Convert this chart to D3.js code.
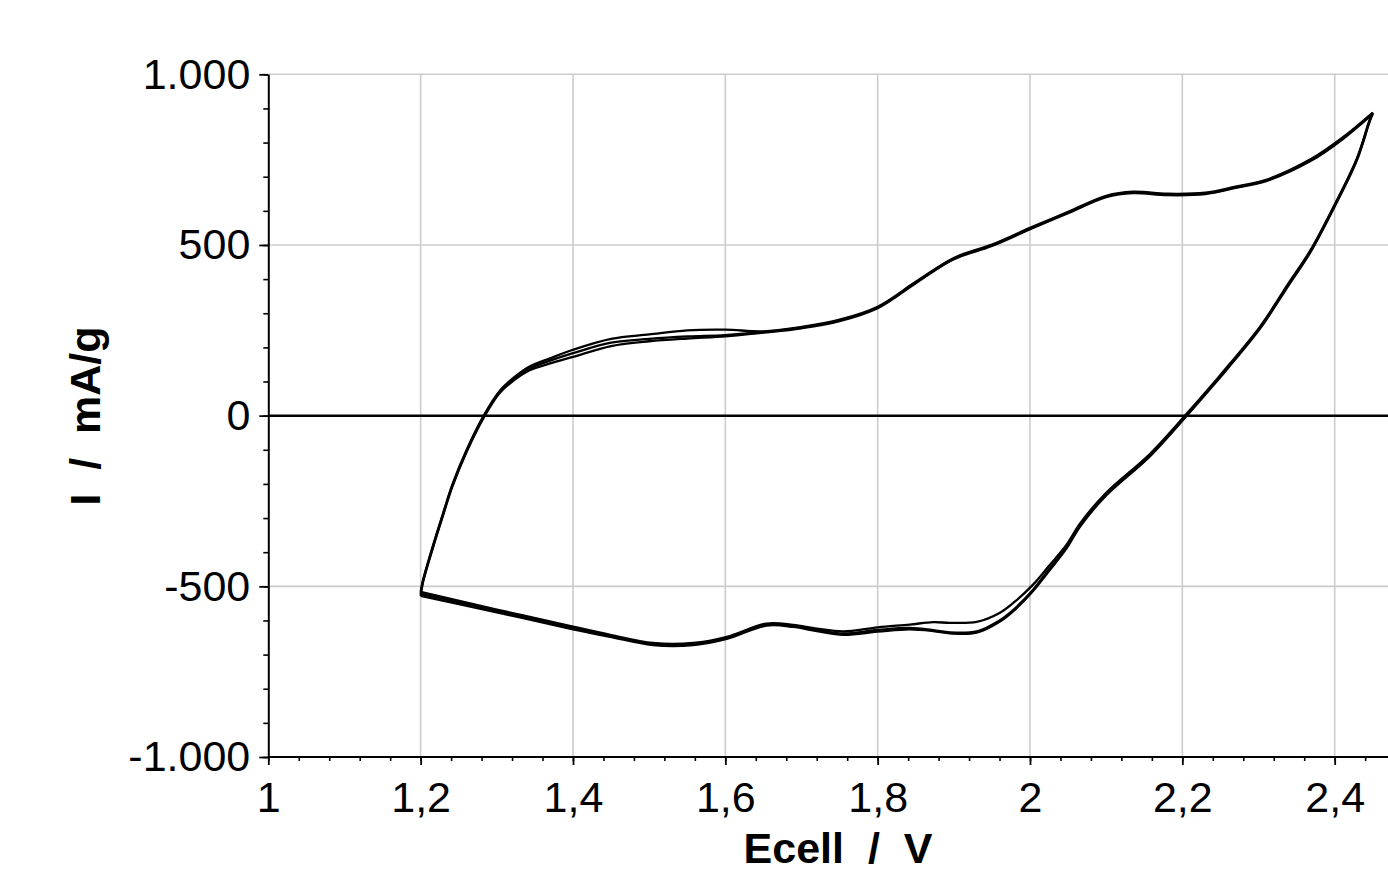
<!DOCTYPE html>
<html>
<head>
<meta charset="utf-8">
<script src="https://cdn.jsdelivr.net/npm/d3@7"></script>
<style>
	body { margin: 0; background: #fff; }
	svg { display: block; font-family: "Liberation Sans", Arial, sans-serif; }
	.tick text { font-size: 43px; fill: #000; }
	.axis-title { font-size: 43px; font-weight: bold; white-space: pre; }
</style>
</head>
<body>
<svg id="chart" width="1388" height="873"></svg>
<script>
// Anodic sweep (1.2 V -> 2.45 V), shared potentials
const anodicE = [1.2, 1.203, 1.216, 1.229, 1.242, 1.261, 1.283, 1.304, 1.321, 1.343, 1.37, 1.4, 1.45, 1.5, 1.55, 1.6, 1.65, 1.7, 1.75, 1.8, 1.85, 1.9, 1.95, 2.0, 2.05, 2.1, 2.135, 2.18, 2.23, 2.27, 2.31, 2.37, 2.41, 2.45];
const anodicA = [-522, -486, -385, -292, -203, -100, -2, 70, 105, 138, 161, 183, 214, 225, 232, 236, 245, 258, 279, 317, 390, 460, 499, 548, 595, 642, 654, 648, 651, 669, 689, 751, 812, 886];
const anodicB = [-528, -489, -388, -295, -206, -103, -5, 67, 101, 133, 153, 172, 204, 218, 226, 232, 243, 256, 277, 315, 388, 458, 497, 546, 593, 640, 652, 646, 649, 667, 687, 748, 809, 884];
const anodicC = [-516, -483, -382, -289, -200, -97, 1, 73, 109, 144, 168, 193, 225, 238, 250, 252, 247, 260, 281, 319, 392, 462, 501, 550, 597, 644, 656, 650, 653, 671, 691, 753, 814, 888];

// Cathodic sweep (2.45 V -> 1.2 V)
const cathodicE = [2.45, 2.446, 2.429, 2.398, 2.368, 2.341, 2.302, 2.262, 2.245, 2.207, 2.157, 2.1, 2.066, 2.048, 2.025, 2.004, 1.98, 1.96, 1.93, 1.895, 1.873, 1.842, 1.8, 1.755, 1.72, 1.689, 1.654, 1.602, 1.558, 1.505, 1.449, 1.4, 1.3, 1.2];
const cathodicA = [886, 865, 750, 607, 481, 390, 258, 148, 103, 6, -117, -230, -320, -385, -450, -510, -565, -600, -632, -635, -628, -622, -628, -638, -628, -616, -612, -651, -669, -669, -645, -622, -572, -522];
const cathodicB = [884, 862, 747, 604, 478, 387, 255, 145, 100, 3, -120, -234, -324, -389, -455, -514, -569, -604, -636, -638, -631, -626, -633, -642, -631, -619, -615, -654, -672, -672, -648, -626, -576, -528];
const cathodicC = [888, 867, 753, 610, 484, 393, 261, 151, 106, 9, -113, -226, -315, -378, -440, -495, -545, -578, -604, -607, -605, -612, -620, -632, -624, -613, -609, -648, -666, -666, -642, -618, -568, -516];

const cycles = [
	{ anodic: anodicA, cathodic: cathodicA },
	{ anodic: anodicB, cathodic: cathodicB },
	{ anodic: anodicC, cathodic: cathodicC }
];

const xMajor = [1, 1.2, 1.4, 1.6, 1.8, 2, 2.2, 2.4];
const yMajor = [-1000, -500, 0, 500, 1000];

const svg = d3.select("#chart");
const width = 1388;

const x = d3.scaleLinear().domain([1, 2.47]).range([268.3, 1388]);
const y = d3.scaleLinear().domain([-1000, 1000]).range([757, 74.3]);

const loc = d3.formatLocale({ decimal: ",", thousands: ".", grouping: [3], currency: ["", "€"], minus: "-" });
const fmtY = loc.format(",d");
const fmtX = loc.format(".2~f");

// grid
svg.append("g")
	.selectAll("line")
	.data(xMajor.filter(d => d > 1))
	.join("line")
	.attr("x1", d => x(d)).attr("x2", d => x(d))
	.attr("y1", y(1000)).attr("y2", y(-1000))
	.attr("stroke", "#cccccc").attr("stroke-width", 1.6);

svg.append("g")
	.selectAll("line")
	.data(yMajor.filter(d => d !== 0 && d !== -1000))
	.join("line")
	.attr("x1", x(1)).attr("x2", width)
	.attr("y1", d => y(d)).attr("y2", d => y(d))
	.attr("stroke", "#cccccc").attr("stroke-width", 1.6);

// zero line
svg.append("line")
	.attr("x1", x(1)).attr("x2", width)
	.attr("y1", y(0)).attr("y2", y(0))
	.attr("stroke", "#000").attr("stroke-width", 2.5);

// minor ticks
svg.append("g")
	.attr("transform", `translate(0,${y(-1000)})`)
	.call(d3.axisBottom(x).tickValues(d3.range(1, 2.47, 0.04)).tickSize(4).tickFormat(""))
	.call(g => g.select(".domain").remove())
	.call(g => g.selectAll("line").attr("stroke-width", 1.6));

svg.append("g")
	.attr("transform", `translate(${x(1)},0)`)
	.call(d3.axisLeft(y).tickValues(d3.range(-1000, 1001, 100)).tickSize(5).tickFormat(""))
	.call(g => g.select(".domain").remove())
	.call(g => g.selectAll("line").attr("stroke-width", 1.6));

// major axes
svg.append("g")
	.attr("transform", `translate(0,${y(-1000)})`)
	.call(d3.axisBottom(x).tickValues(xMajor).tickSize(8).tickPadding(16).tickFormat(fmtX).tickSizeOuter(0))
	.call(g => g.select(".domain").attr("stroke-width", 2).attr("d", `M${x(1)},0H${width}`))
	.call(g => g.selectAll("line").attr("stroke-width", 1.8))
	.call(g => g.selectAll("text").attr("font-family", null).attr("font-size", null).attr("dy", "0.71em"));

svg.append("g")
	.attr("transform", `translate(${x(1)},0)`)
	.call(d3.axisLeft(y).tickValues(yMajor).tickSize(9).tickPadding(9).tickFormat(fmtY).tickSizeOuter(0))
	.call(g => g.select(".domain").attr("stroke-width", 2))
	.call(g => g.selectAll("line").attr("stroke-width", 1.8))
	.call(g => g.selectAll("text").attr("font-family", null).attr("font-size", null));

// titles
svg.append("text")
	.attr("class", "axis-title")
	.attr("x", 838).attr("y", 863)
	.attr("text-anchor", "middle")
	.text("Ecell  /  V");

svg.append("text")
	.attr("class", "axis-title")
	.attr("transform", "translate(100,416) rotate(-90)")
	.attr("text-anchor", "middle")
	.text("I  /  mA/g");

// CV cycles
const line = d3.line()
	.x(d => x(d[0]))
	.y(d => y(d[1]))
	.curve(d3.curveCatmullRom.alpha(0.5));

const curves = svg.append("g").attr("fill", "none").attr("stroke", "#000").attr("stroke-width", 2.3);
cycles.forEach(c => {
	curves.append("path").attr("d", line(anodicE.map((e, i) => [e, c.anodic[i]])));
	curves.append("path").attr("d", line(cathodicE.map((e, i) => [e, c.cathodic[i]])));
});
</script>
</body>
</html>
